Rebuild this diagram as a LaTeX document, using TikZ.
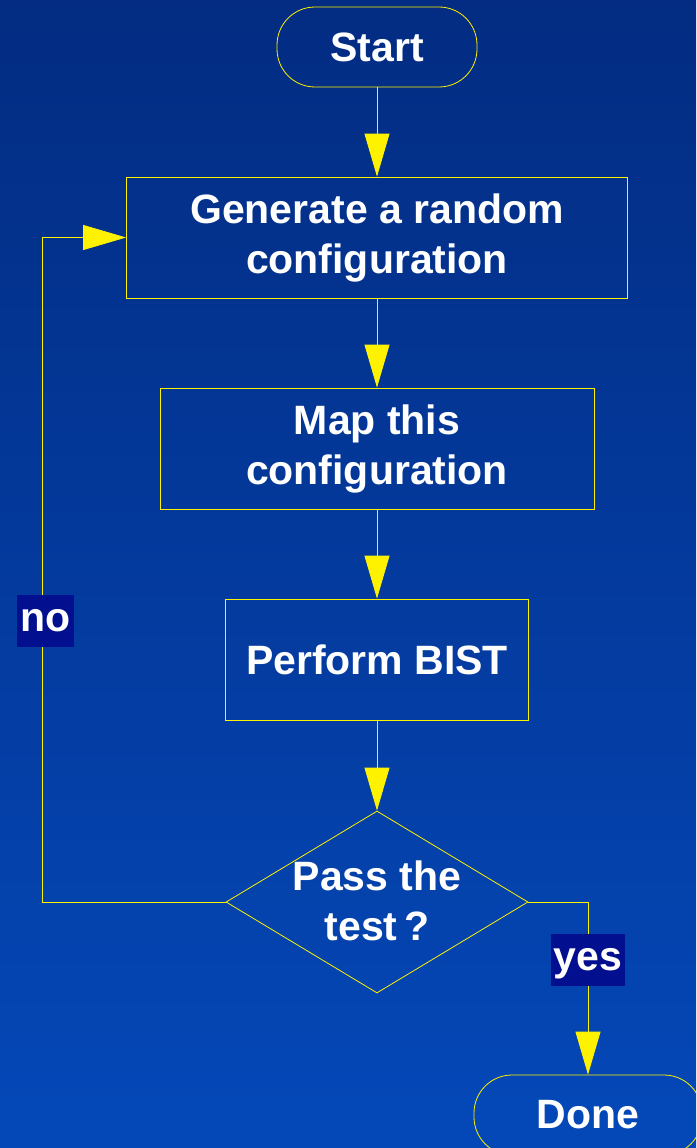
\documentclass[tikz,border=0pt]{standalone}
\usepackage{fontspec}
\setmainfont{Liberation Sans}
\usetikzlibrary{arrows.meta,shapes.geometric}

\definecolor{bgtop}{RGB}{3,44,130}
\definecolor{bgbot}{RGB}{4,72,184}
\definecolor{tagblue}{RGB}{2,16,143}

\begin{document}
\begin{tikzpicture}[x=1pt,y=-1pt,
        box/.style={draw=yellow, line width=0.8pt, text=white, align=center,
            font=\fontsize{41}{50}\selectfont\bfseries, inner sep=0pt},
        term/.style={box, rounded corners=38pt, minimum height=80pt},
        flow/.style={draw=yellow, line width=0.8pt,
            -{Triangle[length=43pt,width=25pt,fill=yellow]}},
        tag/.style={fill=tagblue, text=white, font=\fontsize{41}{50}\selectfont\bfseries,
            inner sep=3pt, text height=30pt, text depth=9pt, minimum height=52pt}]
            \clip (0,0) rectangle (696,1148);
            \shade[top color=bgtop, bottom color=bgbot] (0,0) rectangle (696,1148);

            % boxes
            \node[term, minimum width=200pt] (start) at (377,47) {Start};
            \node[box, minimum width=501pt, minimum height=121pt] (gen) at (377,237.5) {Generate a random\\configuration};
            \node[box, minimum width=434pt, minimum height=121pt] (map) at (377,448.5) {Map this\\configuration};
            \node[box, minimum width=303pt, minimum height=121pt] (bist) at (377,659.5) {Perform BIST};
            \node[draw=yellow, line width=0.8pt, diamond, inner sep=0pt,
                minimum width=302pt, minimum height=182pt] (test) at (377,902) {};
            \node[box, draw=none] (testtxt) at (377,901) {Pass the\\test\,?};
            \node[term, minimum width=228pt] (done) at (588,1115) {Done};

            % arrows
            \draw[flow] (start) -- (gen);
            \draw[flow] (gen) -- (map);
            \draw[flow] (map) -- (bist);
            \draw[flow] (bist) -- (test);
            \draw[flow] (test.west) -- ++(-183,0) |- (gen.west);
            \draw[flow] (test.east) -| (done.north);

            % yes / no
            \node[tag] (no) at (45.5,621) {no};
            \node[tag] (yes) at (588,960) {yes};
        \end{tikzpicture}
\end{document}
